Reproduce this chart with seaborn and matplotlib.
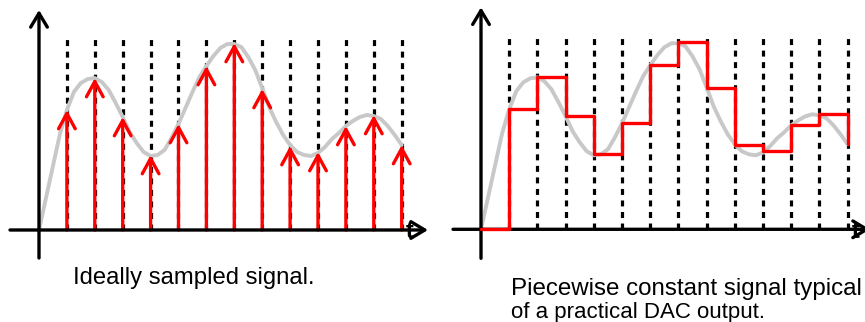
import matplotlib
matplotlib.use("Agg")
import matplotlib.pyplot as plt
import numpy as np
import pandas as pd
import seaborn as sns

# ---- data (vertical unit ~ 1 px) ----
sample_t = [1, 2, 3, 4, 5, 6, 7, 8, 9, 10, 11, 12, 13]
sample_v = [120, 152, 113, 75, 106, 164, 187, 141, 84, 78, 104, 115, 85]

curve_t = [0, 0.25, 0.5, 0.75, 1, 1.25, 1.5, 1.75, 2, 2.25, 2.5, 2.75,
           3, 3.25, 3.5, 3.75, 4, 4.25, 4.5, 4.75, 5, 5.25, 5.5, 5.75,
           6, 6.25, 6.5, 6.75, 7, 7.25, 7.5, 7.75, 8, 8.25, 8.5, 8.75,
           9, 9.25, 9.5, 9.75, 10, 10.25, 10.5, 10.75, 11, 11.25, 11.5, 11.75,
           12, 12.25, 12.5, 12.75, 13]
curve_v = [0, 32, 64, 96, 120, 138, 147, 151, 152, 148, 140, 127,
           113, 98, 87, 78, 74, 75, 80, 92, 106, 122, 138, 153,
           164, 174, 182, 186, 186, 183, 173, 160, 142, 123, 108, 95,
           85, 78, 75, 74, 77, 83, 91, 97, 104, 109, 113, 115,
           114, 111, 104, 95, 85]

left_caption = "Ideally sampled signal."
right_caption = ["Piecewise constant signal typical", "of a practical DAC output."]

RED = "#ff0000"
GRAY = "#c8c8c8"

sns.set_style("white")
plt.rcParams["font.family"] = ["Liberation Sans", "DejaVu Sans"]
plt.rcParams["text.color"] = "black"

W, H = 865, 322
fig = plt.figure(figsize=(W / 100, H / 100), dpi=100)

curve_df = pd.DataFrame({"t": curve_t, "v": curve_v})
step_df = pd.DataFrame({"t": [0] + sample_t, "v": [0] + sample_v})


def setup(ax, x0, dx, base, x_left_px, x_right_px):
    ax.set_xlim((x_left_px - x0) / dx, (x_right_px - x0) / dx)
    ax.set_ylim(base - H, base)
    ax.set_axis_off()


def dashed(ax, top):
    lw = 2.3
    ax.vlines(sample_t, 0, top, colors="black", linewidth=lw,
              linestyles=[(0, (4.3 / lw, 4.0 / lw))], zorder=1)


def axes_arrows(ax, xstart, xend, ybot, ytop):
    kw = dict(arrowstyle="->,head_length=0.5,head_width=0.3", lw=2.4,
              color="black", shrinkA=0, shrinkB=0, mutation_scale=20)
    ax.annotate("", xy=(0, ytop), xytext=(0, ybot), arrowprops=kw,
                annotation_clip=False, zorder=5)
    ax.annotate("", xy=(xend, 0), xytext=(xstart, 0), arrowprops=kw,
                annotation_clip=False, zorder=5)


# ---------------- left panel ----------------
axL = fig.add_axes([0, 0, 440 / W, 1])
x0L, dxL, baseL = 39, 27.9, 230
setup(axL, x0L, dxL, baseL, 0, 440)
dashed(axL, 195)
sns.lineplot(data=curve_df, x="t", y="v", ax=axL, color=GRAY, linewidth=2.8,
             zorder=2, solid_joinstyle="round", solid_capstyle="round")
axes_arrows(axL, (10 - x0L) / dxL, (428 - x0L) / dxL, -28, 220)
for t, v in zip(sample_t, sample_v):
    axL.annotate("", xy=(t, v), xytext=(t, 0),
                 arrowprops=dict(arrowstyle="->,head_length=0.55,head_width=0.3",
                                 lw=2.4, color=RED, shrinkA=0, shrinkB=0,
                                 mutation_scale=20),
                 zorder=4)
axL.text(13.3, -2, "t", fontsize=17, fontweight="bold", ha="center",
         va="center", color="black", zorder=6)

# ---------------- right panel ----------------
axR = fig.add_axes([440 / W, 0, 425 / W, 1])
x0R, dxR, baseR = 481, 28.2, 229.3
setup(axR, x0R, dxR, baseR, 440, 865)
dashed(axR, 196)
sns.lineplot(data=curve_df, x="t", y="v", ax=axR, color=GRAY, linewidth=2.8,
             zorder=2, solid_joinstyle="round", solid_capstyle="round")
axes_arrows(axR, (453 - x0R) / dxR, (870 - x0R) / dxR, -29, 222)
sns.lineplot(data=step_df, x="t", y="v", ax=axR, color=RED, linewidth=2.4,
             drawstyle="steps-post", zorder=6)
axR.text(13.3, -2, "t", fontsize=17, fontweight="bold", ha="center",
         va="center", color="black", zorder=7)

# ---------------- captions ----------------
fig.text(73 / W, 1 - 284.3 / H, left_caption, fontsize=17.2,
         ha="left", va="baseline", color="black")
fig.text(511 / W, 1 - 295.3 / H, right_caption[0], fontsize=17.4,
         ha="left", va="baseline", color="black")
fig.text(511 / W, 1 - 318.0 / H, right_caption[1], fontsize=16,
         ha="left", va="baseline", color="black")

fig.savefig("out.png", dpi=100)
